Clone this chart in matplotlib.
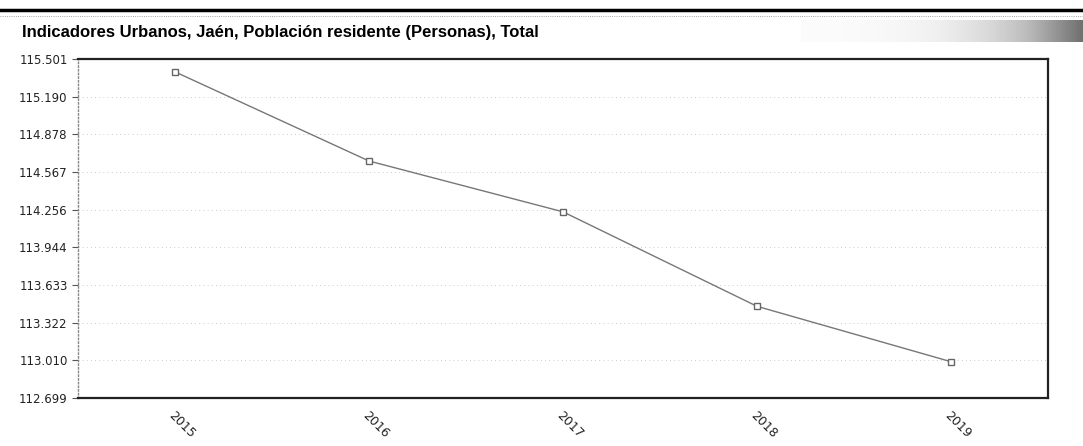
import matplotlib.pyplot as plt
import numpy as np
from matplotlib.lines import Line2D

years = [2015, 2016, 2017, 2018, 2019]
population = [115.395, 114.658, 114.238, 113.457, 112.999]  # thousands of people
ytick_values = [112.699, 113.010, 113.322, 113.633, 113.944,
                114.256, 114.567, 114.878, 115.190, 115.501]
ytick_labels = ['112.699', '113.010', '113.322', '113.633', '113.944',
                '114.256', '114.567', '114.878', '115.190', '115.501']
title = 'Indicadores Urbanos, Jaén, Población residente (Personas), Total'


def main():
    fig = plt.figure(figsize=(10.83, 4.46), dpi=100)
    ax = fig.add_axes([0.072, 0.1076, 0.8957, 0.7601])

    # header decoration: thick rule and grey band at the right
    fig.add_artist(Line2D([0, 1], [0.977, 0.977], color='black', lw=2.5))
    fig.add_artist(Line2D([0, 1], [0.965, 0.965], color='#888888', lw=0.6, ls=':'))
    band = fig.add_axes([0.74, 0.906, 0.26, 0.049])
    grad = np.linspace(0, 1, 200) ** 2.5
    band.imshow(grad.reshape(1, -1), aspect='auto', cmap='Greys',
                vmin=-0.05, vmax=1.6)
    band.axis('off')

    fig.text(0.020, 0.928, title, fontsize=12, fontweight='bold',
             ha='left', va='center', family='Liberation Sans')

    for y in ytick_values:
        ax.axhline(y, color='#bbbbbb', lw=0.6, ls=(0, (1, 4)), zorder=0)

    ax.plot(years, population, color='#777777', lw=1.0, marker='s',
            markersize=4, markerfacecolor='white', markeredgecolor='#666666')

    ax.set_xlim(2014.5, 2019.5)
    ax.set_ylim(ytick_values[0], ytick_values[-1])
    ax.set_yticks(ytick_values)
    ax.set_yticklabels(ytick_labels, fontsize=8.5, color='#222222')
    ax.set_xticks(years)
    ax.set_xticklabels([str(y) for y in years], rotation=-45, ha='left',
                       va='top', fontsize=9, color='#222222',
                       rotation_mode='anchor')
    ax.tick_params(axis='x', length=0, pad=8)
    ax.tick_params(axis='y', length=4, color='#555555')

    for side in ['top', 'right', 'bottom']:
        ax.spines[side].set_color('#222222')
        ax.spines[side].set_linewidth(1.6)
    ax.spines['left'].set_color('#888888')
    ax.spines['left'].set_linestyle(':')
    ax.spines['left'].set_linewidth(1.0)

    fig.savefig('out.png', dpi=100)


if __name__ == '__main__':
    main()
